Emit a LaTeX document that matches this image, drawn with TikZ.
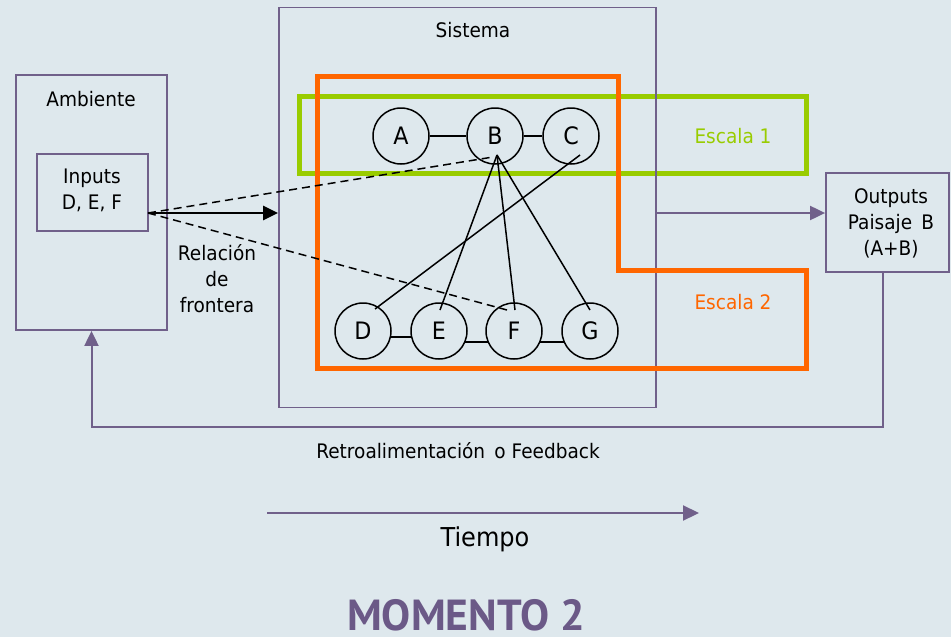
\documentclass[tikz,border=0pt]{standalone}
\usepackage{fontspec}
\setmainfont{DejaVu Sans}[FakeStretch=0.925]
\newfontfamily\titlefont{PT Sans}
\usetikzlibrary{arrows.meta,calc}
\definecolor{bg}{RGB}{222,232,237}
\definecolor{vio}{RGB}{112,96,138}
\definecolor{viot}{RGB}{107,89,135}
\definecolor{lime}{RGB}{153,204,0}
\definecolor{orng}{RGB}{255,102,0}
\begin{document}
\begin{tikzpicture}[x=1pt,y=-1pt,
  box/.style={draw=vio,line width=1.8pt,inner sep=0pt},
  txt/.style={font=\fontsize{20}{26}\selectfont,align=center,inner sep=0pt},
  circ/.style={circle,draw=black,line width=1.5pt,minimum size=56pt,inner sep=0pt,font=\fontsize{24}{26}\selectfont},
  vioarrow/.style={draw=vio,line width=2pt,-{Triangle[length=15pt,width=14pt]}},
  link/.style={black,line width=1.5pt},
  dashlink/.style={black,line width=1.5pt,dash pattern=on 8pt off 5pt},
  scalebox1/.style={lime,line width=5pt},
  scalebox2/.style={orng,line width=5pt,line join=miter}
]
\fill[bg] (0,0) rectangle (951,637);
\useasboundingbox (0,0) rectangle (951,637);

% scale 1 (green)
\draw[scalebox1] (299,96) rectangle (806.5,173.5);
% system box
\node[box,minimum width=377pt,minimum height=400pt] (sis) at (467.5,207.5) {};
% scale 2 (orange)
\draw[scalebox2] (317.5,76) -- (618,76) -- (618,270.5) -- (806,270.5) -- (806,368) -- (317.5,368) -- cycle;

\node[txt] (sistxt) at (473,30) {Sistema};
\node[txt,text=lime] (esc1) at (733,136) {Escala 1};
\node[txt,text=orng] (esc2) at (733,302) {Escala 2};

% environment
\node[box,minimum width=151pt,minimum height=255pt] (amb) at (91.5,202.5) {};
\node[txt] (ambtxt) at (91,99) {Ambiente};
\node[box,minimum width=111pt,minimum height=77pt] (inp) at (92.5,192.5) {};
\node[txt] (inptxt) at (92,190) {Inputs\\D, E, F};
\coordinate (src) at (148,213);

% outputs
\node[box,minimum width=123pt,minimum height=99pt] (out) at (887.5,222.5) {};
\node[txt] (outtxt) at (891,223.5) {Outputs\\Paisaje \,B\\(A+B)};

\node[txt] (rel) at (217,279) {Relación\\de\\frontera};

% circles
\node[circ] (A) at (401,136) {A};
\node[circ] (B) at (495,136) {B};
\node[circ] (C) at (571,136) {C};
\node[circ] (D) at (363,331) {D};
\node[circ] (E) at (439,331) {E};
\node[circ] (F) at (514,331) {F};
\node[circ] (G) at (590,331) {G};

\draw[link] (A) -- (B);
\draw[link] (B) -- (C);
\draw[link] (D.-12) -- (E.192);
\draw[link] (E.-23) -- (F.203);
\draw[link] (F.-23) -- (G.203);

\draw[link] ($(B)+(2,19)$) -- ($(E)+(1,-21)$);
\draw[link] ($(B)+(2,19)$) -- ($(F)+(1,-21)$);
\draw[link] ($(B)+(2,19)$) -- ($(G)+(0,-21)$);
\draw[link] ($(C)+(9,19)$) -- ($(D)+(12,-22)$);

% boundary relation
\draw[dashlink] (src) -- ($(B)+(-2,21)$);
\draw[dashlink] (src) -- ($(F)+(-7,-21)$);
\draw[black,line width=2.5pt,-{Triangle[length=15pt,width=14pt]}] (src) -- (src -| sis.west);

% output arrow
\draw[vioarrow] (sis.east |- src) -- (out.west |- src);

% feedback
\coordinate (fbr) at (883,427);
\draw[vioarrow] (fbr |- out.south) -- (fbr) -- (fbr -| amb.south) -- (amb.south);
\node[txt] (fbtxt) at (458,451) {Retroalimentación \,o Feedback};

% time
\coordinate (t0) at (267,513);
\coordinate (t1) at (699,513);
\draw[draw=vio,line width=2.2pt,-{Triangle[length=16pt,width=15pt]}] (t0) -- (t1);
\node[font=\fontsize{26}{30}\selectfont,inner sep=0pt] (tiempo) at (485,539) {Tiempo};

\node[font=\titlefont\bfseries\fontsize{43.5}{48}\selectfont,text=viot,inner sep=0pt,anchor=base] (title) at (466,630) {MOMENTO 2};
\end{tikzpicture}
\end{document}
